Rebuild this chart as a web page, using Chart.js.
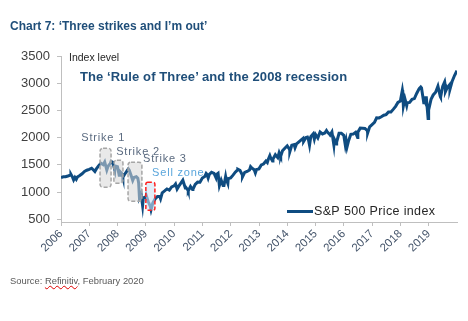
<!DOCTYPE html>
<html>
<head>
<meta charset="utf-8">
<script src="https://cdn.jsdelivr.net/npm/chart.js@4"></script>
<style>
  html, body { margin: 0; padding: 0; background: #ffffff; }
  #wrap { position: relative; width: 468px; height: 321px; overflow: hidden; font-family: "Liberation Sans", Arial, sans-serif; }
  canvas { position: absolute; left: 0; top: 0; }
  .t { position: absolute; white-space: nowrap; }
  #title { left: 10px; top: 19px; font-size: 12px; font-weight: bold; color: #1F4E79; }
  #unit { left: 69px; top: 51px; font-size: 10.5px; color: #262626; }
  #sub { left: 80px; top: 69px; font-size: 13px; font-weight: bold; color: #1F4E79; letter-spacing: 0.1px; }
  #src { left: 10px; top: 275px; font-size: 9.4px; color: #595959; }
  #src .sp { text-decoration: underline wavy #e00000; text-decoration-thickness: 1px; }
</style>
</head>
<body>
<div id="wrap">
  <canvas id="c" width="468" height="321"></canvas>
  <div class="t" id="title">Chart 7: ‘Three strikes and I’m out’</div>
  <div class="t" id="unit">Index level</div>
  <div class="t" id="sub">The ‘Rule of Three’ and the 2008 recession</div>
  <div class="t" id="src">Source: <span class="sp">Refinitiv</span>, February 2020</div>
</div>
<script>
// ---- Data ----
const seriesLabel = "S&P 500 Price index";
const dates = [
"2006-01-01","2006-01-31","2006-02-28","2006-03-31","2006-04-30","2006-05-09","2006-05-31","2006-06-13","2006-06-30","2006-07-17","2006-07-31","2006-08-31","2006-09-30","2006-10-31","2006-11-30","2006-12-31",
"2007-01-31","2007-02-27","2007-03-14","2007-03-31","2007-04-30","2007-05-31","2007-06-30","2007-07-19","2007-08-15","2007-08-31","2007-09-30","2007-10-09","2007-10-31","2007-11-26","2007-11-30","2007-12-31",
"2008-01-22","2008-01-31","2008-02-29","2008-03-10","2008-03-31","2008-04-30","2008-05-19","2008-05-31","2008-06-30","2008-07-15","2008-07-31","2008-08-31","2008-09-19","2008-09-30","2008-10-10","2008-10-31","2008-11-20","2008-11-30","2008-12-31",
"2009-01-06","2009-01-31","2009-02-28","2009-03-09","2009-03-31","2009-04-30","2009-05-31","2009-06-30","2009-07-10","2009-07-31","2009-08-31","2009-09-30","2009-10-31","2009-11-30","2009-12-31",
"2010-01-19","2010-02-08","2010-02-28","2010-03-31","2010-04-23","2010-05-25","2010-05-31","2010-06-30","2010-07-02","2010-07-31","2010-08-26","2010-08-31","2010-09-30","2010-10-31","2010-11-30","2010-12-31",
"2011-01-31","2011-02-18","2011-02-28","2011-03-16","2011-03-31","2011-04-29","2011-05-31","2011-06-24","2011-06-30","2011-07-22","2011-08-08","2011-08-31","2011-09-22","2011-09-30","2011-10-03","2011-10-27","2011-10-31","2011-11-25","2011-11-30","2011-12-31",
"2012-01-31","2012-02-29","2012-03-31","2012-04-02","2012-04-30","2012-05-31","2012-06-01","2012-06-30","2012-07-31","2012-08-31","2012-09-14","2012-09-30","2012-10-31","2012-11-15","2012-11-30","2012-12-31",
"2013-01-31","2013-02-28","2013-03-31","2013-04-18","2013-04-30","2013-05-21","2013-05-31","2013-06-24","2013-06-30","2013-07-31","2013-08-31","2013-09-18","2013-09-30","2013-10-08","2013-10-31","2013-11-30","2013-12-31",
"2014-01-31","2014-02-03","2014-02-28","2014-03-31","2014-04-11","2014-04-30","2014-05-31","2014-06-30","2014-07-24","2014-07-31","2014-08-31","2014-09-18","2014-09-30","2014-10-15","2014-10-31","2014-11-30","2014-12-16","2014-12-31",
"2015-01-30","2015-02-28","2015-03-31","2015-04-30","2015-05-21","2015-05-31","2015-06-30","2015-07-08","2015-07-31","2015-08-25","2015-08-31","2015-09-29","2015-09-30","2015-10-31","2015-11-30","2015-12-31",
"2016-01-20","2016-01-31","2016-02-11","2016-02-29","2016-03-31","2016-04-30","2016-05-31","2016-06-27","2016-06-30","2016-07-31","2016-08-31","2016-09-30","2016-10-31","2016-11-04","2016-11-30","2016-12-31",
"2017-01-31","2017-02-28","2017-03-31","2017-04-30","2017-05-31","2017-06-30","2017-07-31","2017-08-31","2017-09-30","2017-10-31","2017-11-30","2017-12-31",
"2018-01-26","2018-01-31","2018-02-08","2018-02-28","2018-03-23","2018-03-31","2018-04-30","2018-05-31","2018-06-30","2018-07-31","2018-08-31","2018-09-20","2018-09-30","2018-10-29","2018-10-31","2018-11-23","2018-11-30","2018-12-24","2018-12-31",
"2019-01-31","2019-02-28","2019-03-31","2019-04-30","2019-05-31","2019-06-03","2019-06-30","2019-07-26","2019-07-31","2019-08-05","2019-08-31","2019-09-30","2019-10-02","2019-10-31","2019-11-30","2019-12-31"
];
const sp500 = [
1265,1280,1281,1295,1311,1326,1270,1223,1270,1236,1277,1304,1336,1378,1401,1418,
1438,1400,1377,1421,1482,1531,1503,1553,1406,1474,1527,1565,1549,1407,1481,1468,
1310,1379,1331,1273,1323,1386,1426,1400,1280,1214,1267,1283,1255,1165,899,969,752,896,903,
935,826,735,676,798,873,919,919,879,987,1021,1057,1036,1096,1115,
1150,1056,1104,1169,1217,1074,1089,1031,1022,1102,1047,1049,1141,1183,1181,1258,
1286,1343,1327,1257,1326,1364,1345,1268,1321,1345,1119,1219,1129,1131,1099,1285,1253,1159,1247,1258,
1312,1366,1408,1419,1398,1310,1278,1362,1379,1407,1466,1441,1412,1353,1416,1426,
1498,1515,1569,1541,1598,1669,1631,1573,1606,1686,1633,1725,1682,1656,1757,1806,1848,
1783,1742,1859,1872,1815,1884,1924,1960,1988,1931,2003,2011,1972,1862,2018,2068,1973,2059,
1995,2105,2068,2086,2131,2107,2063,2047,2104,1867,1972,1884,1920,2079,2080,2044,
1859,1940,1829,1932,2060,2065,2097,2001,2099,2174,2171,2168,2126,2085,2199,2239,
2279,2364,2363,2384,2412,2423,2470,2472,2519,2575,2648,2674,
2873,2824,2581,2714,2588,2641,2648,2705,2718,2816,2902,2931,2914,2641,2712,2633,2760,2351,2507,
2704,2784,2834,2946,2752,2744,2942,3026,2980,2845,2926,2977,2887,3038,3141,3231
];
const yearLabels = [2006,2007,2008,2009,2010,2011,2012,2013,2014,2015,2016,2017,2018,2019];
const yTickValues = [500,1000,1500,2000,2500,3000,3500];

// Annotation ranges in data units (years, index level)
const strikeNames = ["Strike 1","Strike 2","Strike 3"];
const strikeFrom  = [2007.38, 2007.87, 2008.37];
const strikeTo    = [2007.77, 2008.19, 2008.86];
const strikeHigh  = [1805, 1585, 1548];
const strikeLow   = [1088, 1162, 831];
const strikeTextX = [2006.72, 2007.95, 2008.90];
const strikeTextY = [2000, 1745, 1600];
const sellName = "Sell zone";
const sellFrom = 2009.0, sellTo = 2009.32, sellHigh = 1180, sellLow = 665;
const sellTextX = 2009.22, sellTextY = 1345;

function toYear(s) {
  const [y, m, d] = s.split("-").map(Number);
  const start = Date.UTC(y, 0, 1), end = Date.UTC(y + 1, 0, 1);
  return y + (Date.UTC(y, m - 1, d) - start) / (end - start);
}
const points = dates.map((d, i) => ({ x: toYear(d), y: sp500[i] }));

const LINE = "#0F4C81";
const FONT = '"Liberation Sans", Arial, sans-serif';

function roundRect(ctx, x, y, w, h, r) {
  ctx.beginPath();
  ctx.moveTo(x + r, y);
  ctx.lineTo(x + w - r, y);
  ctx.quadraticCurveTo(x + w, y, x + w, y + r);
  ctx.lineTo(x + w, y + h - r);
  ctx.quadraticCurveTo(x + w, y + h, x + w - r, y + h);
  ctx.lineTo(x + r, y + h);
  ctx.quadraticCurveTo(x, y + h, x, y + h - r);
  ctx.lineTo(x, y + r);
  ctx.quadraticCurveTo(x, y, x + r, y);
  ctx.closePath();
}

const annotations = {
  id: "annotations",
  afterDatasetsDraw(chart) {
    const { ctx, scales: { x, y } } = chart;
    ctx.save();
    for (let i = 0; i < strikeNames.length; i++) {
      const x0 = x.getPixelForValue(strikeFrom[i]), x1 = x.getPixelForValue(strikeTo[i]);
      const y0 = y.getPixelForValue(strikeHigh[i]), y1 = y.getPixelForValue(strikeLow[i]);
      roundRect(ctx, x0, y0, x1 - x0, y1 - y0, 3);
      ctx.fillStyle = "rgba(215,215,215,0.55)";
      ctx.fill();
      ctx.setLineDash([4, 2]);
      ctx.lineWidth = 1.5;
      ctx.strokeStyle = "#A6A6A6";
      ctx.stroke();
    }
    {
      const x0 = x.getPixelForValue(sellFrom), x1 = x.getPixelForValue(sellTo);
      const y0 = y.getPixelForValue(sellHigh), y1 = y.getPixelForValue(sellLow);
      roundRect(ctx, x0, y0, x1 - x0, y1 - y0, 2);
      ctx.fillStyle = "rgba(205,225,243,0.6)";
      ctx.fill();
      ctx.setLineDash([4, 2]);
      ctx.lineWidth = 1.5;
      ctx.strokeStyle = "#FF2020";
      ctx.stroke();
    }
    ctx.setLineDash([]);
    ctx.font = "11px " + FONT;
    ctx.textBaseline = "middle";
    ctx.textAlign = "left";
    try { ctx.letterSpacing = "0.8px"; } catch (e) {}
    ctx.fillStyle = "#5B6B80";
    for (let i = 0; i < strikeNames.length; i++) {
      ctx.fillText(strikeNames[i], x.getPixelForValue(strikeTextX[i]), y.getPixelForValue(strikeTextY[i]));
    }
    ctx.fillStyle = "#5AA6DC";
    ctx.fillText(sellName, x.getPixelForValue(sellTextX), y.getPixelForValue(sellTextY));
    // legend
    const ds = chart.data.datasets[0];
    const lx = chart.chartArea.right - 170, ly = chart.chartArea.bottom - 10.5;
    ctx.strokeStyle = ds.borderColor;
    ctx.lineWidth = 3;
    ctx.beginPath();
    ctx.moveTo(lx, ly);
    ctx.lineTo(lx + 26, ly);
    ctx.stroke();
    try { ctx.letterSpacing = "0.35px"; } catch (e) {}
    ctx.font = "12.5px " + FONT;
    ctx.fillStyle = "#262626";
    ctx.fillText(ds.label, lx + 27, ly);
    ctx.restore();
  }
};

new Chart(document.getElementById("c"), {
  type: "line",
  data: {
    datasets: [{
      label: seriesLabel,
      data: points,
      borderColor: LINE,
      borderWidth: 3,
      pointRadius: 0,
      tension: 0,
      fill: false
    }]
  },
  options: {
    responsive: false,
    animation: false,
    layout: { padding: { left: 0, top: 56, right: 11, bottom: 59 } },
    plugins: { legend: { display: false }, tooltip: { enabled: false } },
    scales: {
      x: {
        type: "linear",
        min: 2006,
        max: 2020,
        afterBuildTicks(s) { s.ticks = yearLabels.map(v => ({ value: v })); },
        afterFit(s) { s.height = 40; },
        ticks: {
          autoSkip: false,
          minRotation: 45,
          maxRotation: 45,
          padding: 1,
          color: "#44546A",
          font: { family: FONT, size: 11.5 },
          callback: v => String(v)
        },
        grid: { drawOnChartArea: false, drawTicks: true, tickLength: 4, color: "#BFBFBF" },
        border: { display: true, color: "#BFBFBF", width: 1 }
      },
      y: {
        min: 450,
        max: 3500,
        afterBuildTicks(s) { s.ticks = yTickValues.map(v => ({ value: v })); },
        afterFit(s) { s.width = 61; },
        ticks: {
          padding: 7,
          color: "#404040",
          font: { family: FONT, size: 13 },
          callback: v => String(v)
        },
        grid: { drawOnChartArea: false, drawTicks: true, tickLength: 4, color: "#BFBFBF" },
        border: { display: true, color: "#BFBFBF", width: 1 }
      }
    }
  },
  plugins: [annotations]
});
</script>
</body>
</html>
